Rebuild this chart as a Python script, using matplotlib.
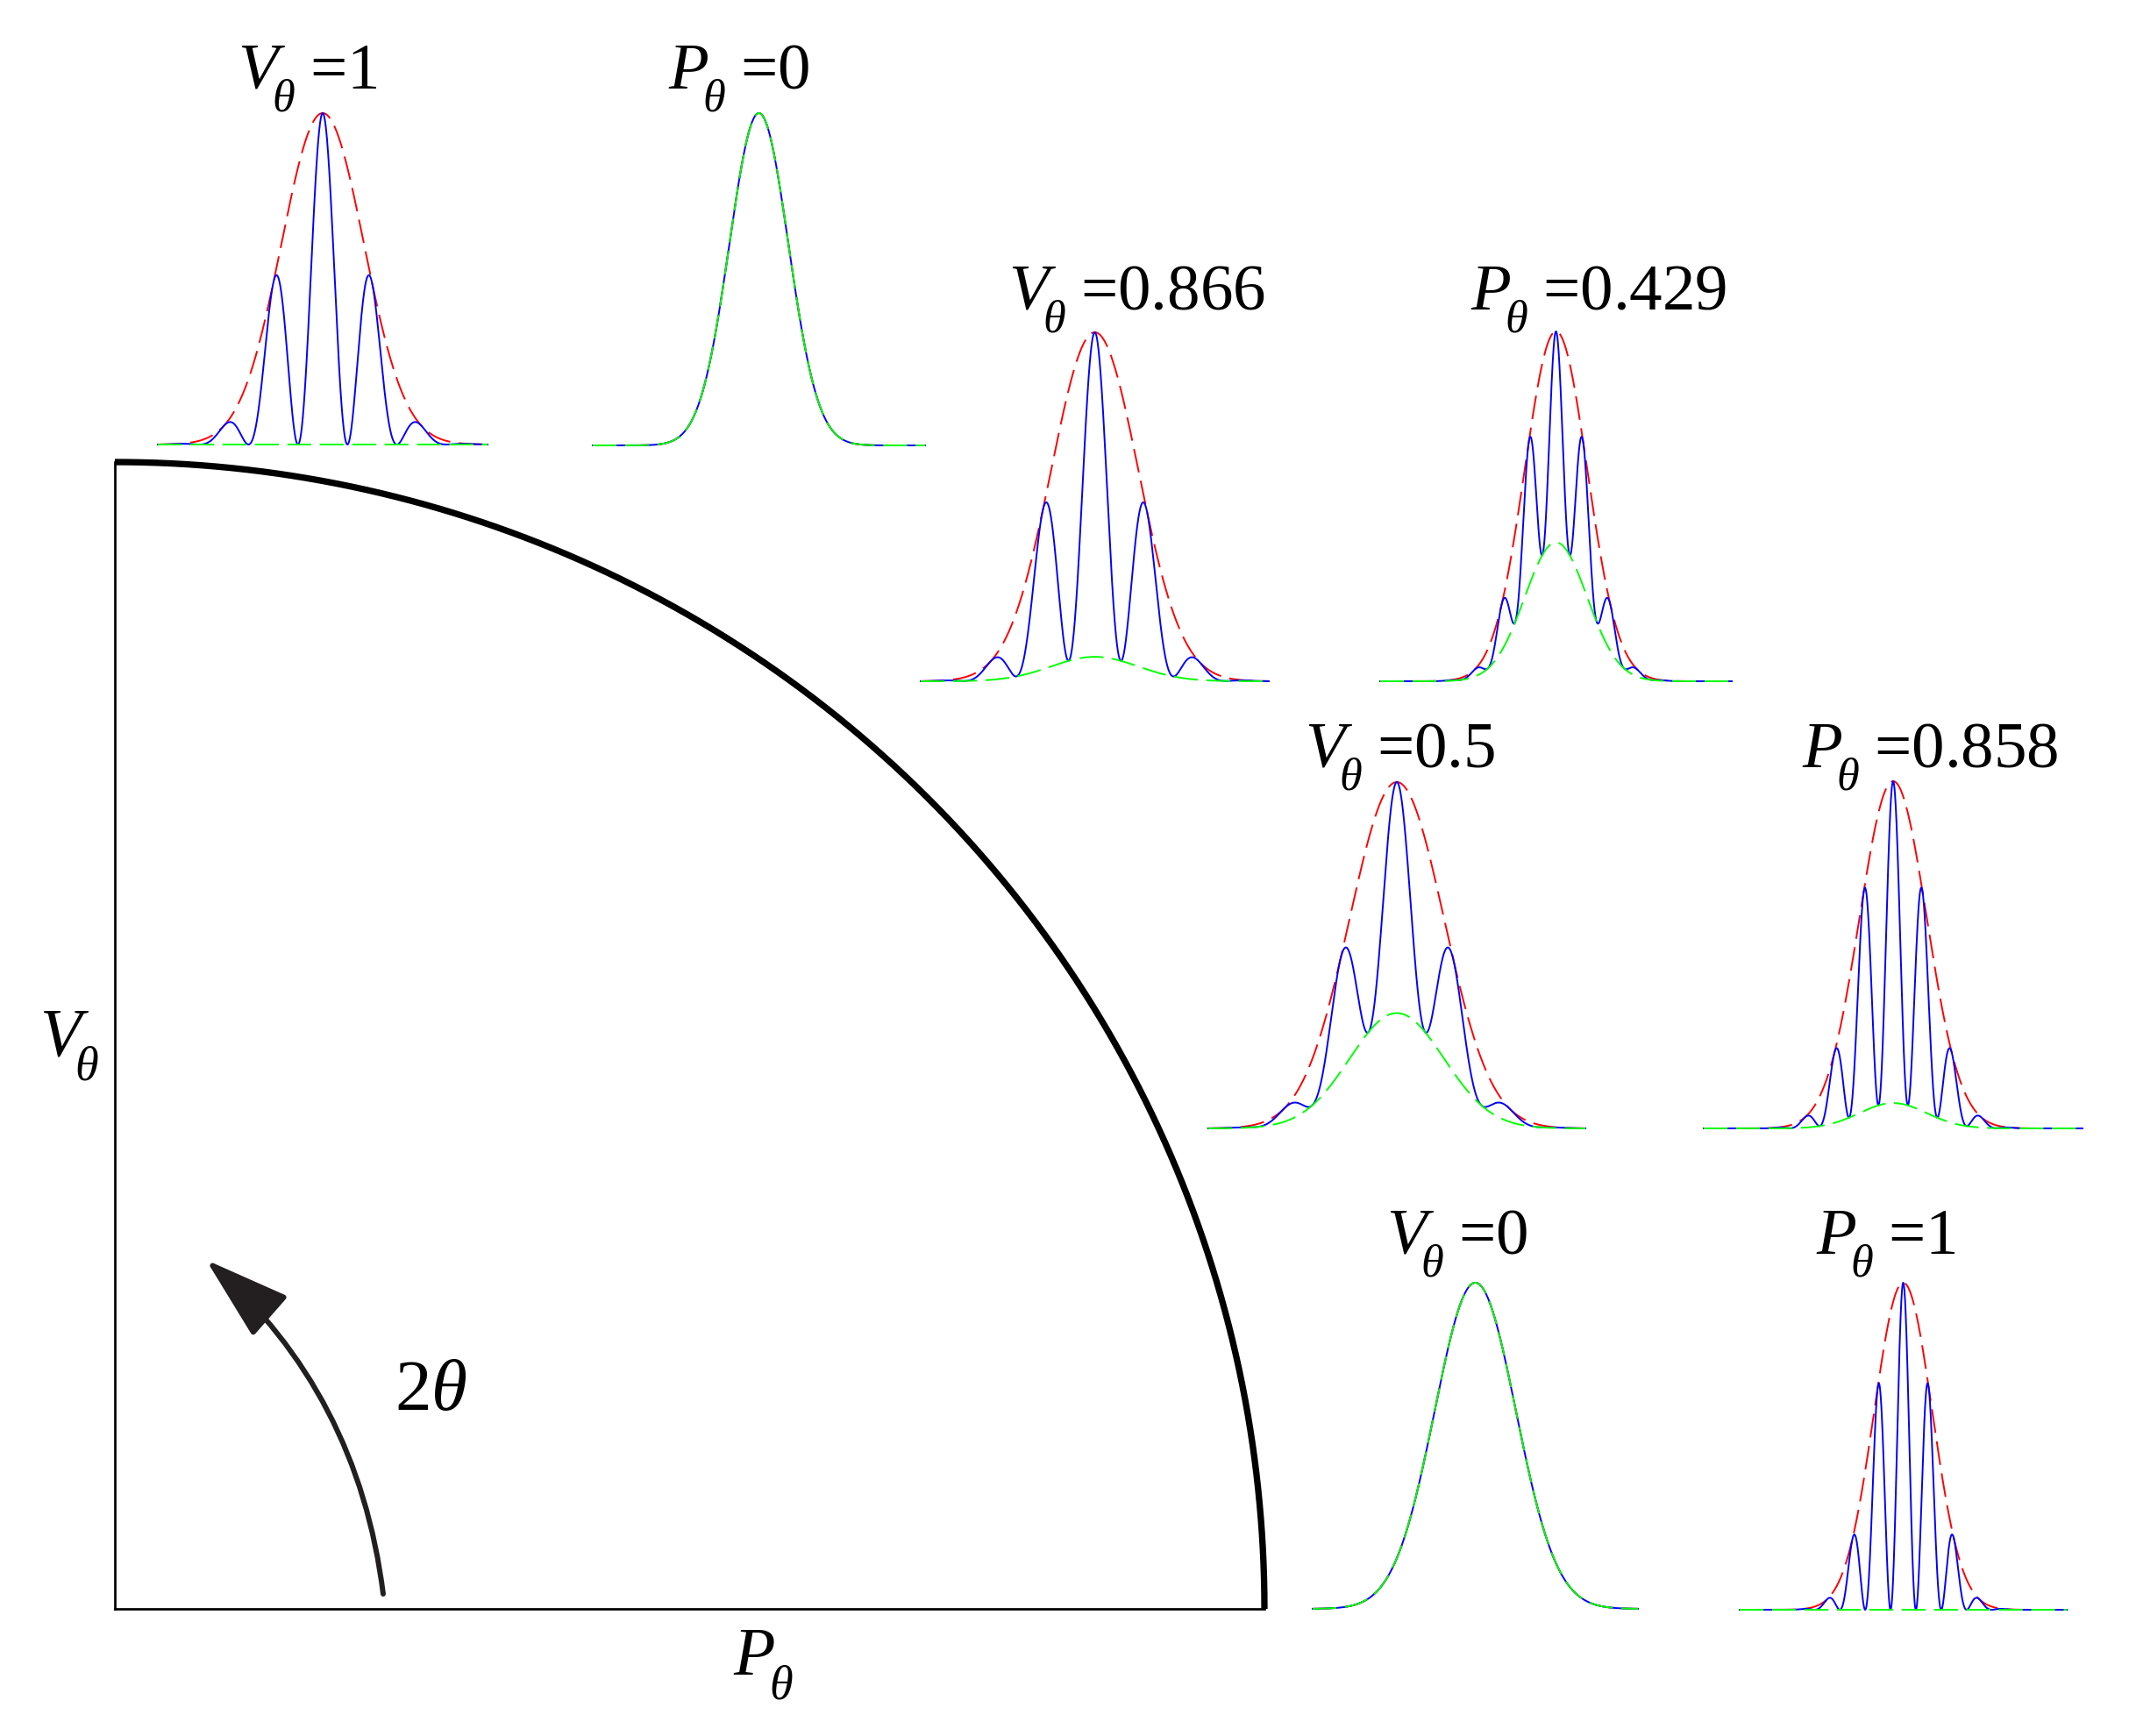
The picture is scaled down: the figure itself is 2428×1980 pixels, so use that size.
import numpy as np
import matplotlib
matplotlib.use('Agg')
import matplotlib.pyplot as plt
from matplotlib.patches import FancyArrowPatch

# lower the mathtext subscripts (the reference drops them well below the baseline)
try:
    import matplotlib._mathtext as _mt
    _mt.FontConstantsBase.sub1 = 0.78
except Exception:
    pass

SERIF = 'Liberation Serif'
plt.rcParams.update({
    'font.family': SERIF,
    'mathtext.fontset': 'custom',
    'mathtext.rm': SERIF,
    'mathtext.it': SERIF + ':italic',
    'mathtext.bf': SERIF + ':bold',
})

# ---------------- data ----------------
v_values = ['1', '0.866', '0.5', '0']          # V_theta panel labels
p_values = ['0', '0.429', '0.858', '1']        # P_theta panel labels
v_min_ratio = [0.0, 0.07, 0.333, 1.0]          # green (min) / red (max) envelope peak ratio
p_min_ratio = [1.0, 0.397, 0.073, 0.0]
v_sigma, v_period = 1.0, 1.2                   # envelope width, fringe period (V panels)
p_sigma, p_period = 0.71, 0.62                 # envelope width, fringe period (P panels)
x_lim = (-4.0, 4.0)

# ---------------- layout (pixels of a 2428x1980 canvas) ----------------
W, H, DPI = 2428, 1980, 100
v_panels = [(180, 556, 507, 129), (1050, 1447, 777, 379),
            (1378, 1808, 1287, 892), (1497, 1868, 1835, 1463)]
p_panels = [(676, 1055, 508, 129), (1574, 1975, 777, 378),
            (1943, 2375, 1287, 891), (1984, 2357, 1836, 1463)]
v_title = [(274, 101), (1153, 353), (1491, 875), (1584, 1430)]
p_title = [(765, 101), (1680, 353), (2058, 875), (2074, 1430)]

fig = plt.figure(figsize=(W / DPI, H / DPI), dpi=DPI)
fig.patch.set_facecolor('white')


def fx(x):
    return x / W


def fy(y):
    return 1 - y / H


def sub_label(sym, rest, left, base, size):
    em = size * DPI / 72.0
    s = r'$' + sym + r'_{\!\theta}' + (r'\;$' + rest if rest else r'$')
    fig.text(fx(left - 0.04 * em), fy(base), s, fontsize=size,
             ha='left', va='baseline')


def panel(box, ratio, sigma, period):
    x0, x1, yb, yp = box
    ax = fig.add_axes([fx(x0), fy(yb), (x1 - x0) / W, (yb - yp) / H])
    ax.set_xlim(*x_lim)
    ax.set_ylim(0, 1)
    ax.axis('off')
    x = np.linspace(x_lim[0], x_lim[1], 1601)
    env = np.exp(-x ** 2 / (2 * sigma ** 2))
    low = ratio * env
    c2 = np.cos(np.pi * x / period) ** 2
    inten = env * c2 + low * (1 - c2)
    lw = 1.4
    ax.plot(x, env, color='#ff0000', lw=lw, dashes=(14, 5), clip_on=False, zorder=1)
    ax.plot(x, inten, color='#0000ff', lw=lw, clip_on=False, zorder=2)
    ax.plot(x, low, color='#00ff00', lw=lw, dashes=(14, 5), clip_on=False, zorder=3)


for i in range(4):
    panel(v_panels[i], v_min_ratio[i], v_sigma, v_period)
    panel(p_panels[i], p_min_ratio[i], p_sigma, p_period)
    sub_label('V', '=' + v_values[i], v_title[i][0], v_title[i][1], 54)
    sub_label('P', '=' + p_values[i], p_title[i][0], p_title[i][1], 54)

# ---------------- main quarter circle ----------------
ax = fig.add_axes([fx(131), fy(1835), 1311 / W, 1308 / H])
ax.set_xlim(0, 1)
ax.set_ylim(0, 1)
for s in ('top', 'right'):
    ax.spines[s].set_visible(False)
for s in ('left', 'bottom'):
    ax.spines[s].set_linewidth(1.95)
ax.set_xticks([])
ax.set_yticks([])
ax.patch.set_alpha(0)
t = np.linspace(0, np.pi / 2, 600)
ax.plot(np.cos(t), np.sin(t), color='black', lw=5.25, clip_on=False,
        solid_capstyle='butt')

# axis labels
sub_label('V', '', 48, 1204, 56)
sub_label('P', '', 839, 1910, 56)

# 2theta and arrow
fig.text(fx(450), fy(1608), r'2$\theta$', fontsize=60, ha='left', va='baseline')

arrow = FancyArrowPatch(posA=(fx(437), fy(1818)), posB=(fx(235), fy(1437)),
                        transform=fig.transFigure,
                        connectionstyle='arc3,rad=0.19',
                        arrowstyle='-|>,head_length=6.1,head_width=1.9',
                        mutation_scale=10, lw=4.3, color='#231f20',
                        shrinkA=0, shrinkB=0)
fig.patches.append(arrow)

fig.savefig('out.png', dpi=DPI, facecolor='white')
